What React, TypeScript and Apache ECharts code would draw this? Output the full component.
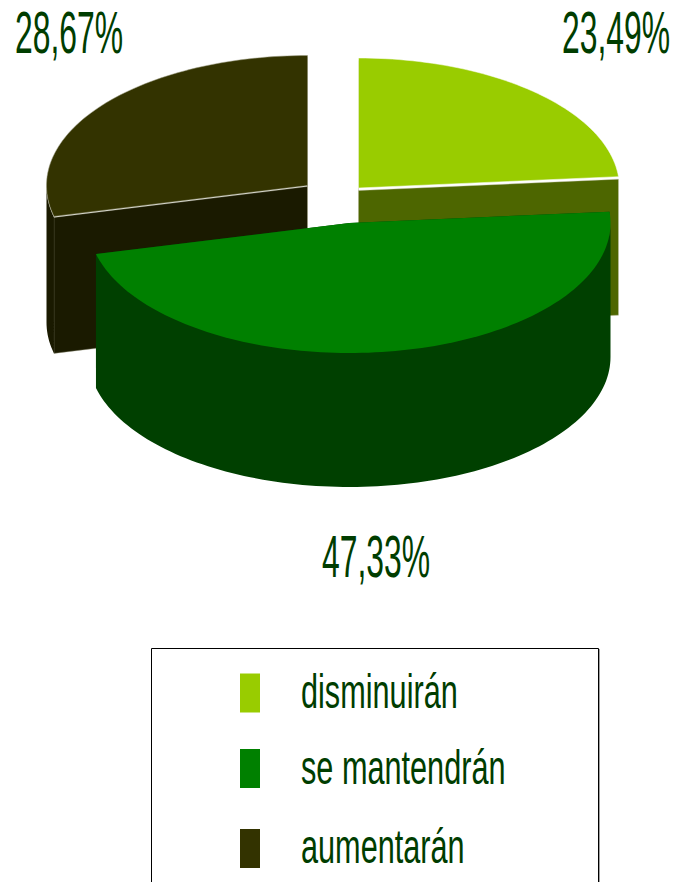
import React, { useEffect, useRef } from "react";
import * as echarts from "echarts";

const categories = ["disminuirán", "se mantendrán", "aumentarán"];
const values = [23.49, 47.33, 28.67];
const labels = ["23,49%", "47,33%", "28,67%"];
const topColors = ["#99cc00", "#008000", "#333300"];
const wallColors = ["#4d6600", "#004000", "#1a1a00"];
const edgeColors = ["#ffffff", "transparent", "#9a9a80"];
const centers = [
  [358.5, 188],
  [349.5, 223],
  [307.5, 185.5],
];
const wallOffsets = [2.5, 0, 1];
const depths = [136, 134, 136];
const labelPos = [
  [562, 32],
  [322, 556],
  [15, 32],
];

const RX = 261;
const RY = 130;
const TEXT = "#003d00";
const FONT = '"Liberation Sans", Arial, sans-serif';
const total = values.reduce((a, b) => a + b, 0);

function pt(c: number[], deg: number, dz: number) {
  const r = (deg * Math.PI) / 180;
  return [c[0] + RX * Math.cos(r), c[1] - RY * Math.sin(r) + dz];
}

function arc(c: number[], from: number, to: number, dz: number) {
  const out: number[][] = [];
  const n = Math.max(2, Math.ceil(Math.abs(from - to) / 1.5));
  for (let i = 0; i <= n; i++) out.push(pt(c, from + ((to - from) * i) / n, dz));
  return out;
}

function renderItem(params: any, api: any) {
  const i = params.dataIndex;
  const v = api.value(0);
  let before = 0;
  for (let k = 0; k < i; k++) before += values[k];
  const a0 = 90 - (before / total) * 360;
  const a1 = a0 - (v / total) * 360;
  const c = centers[i];
  const off = wallOffsets[i];
  const low = off + depths[i];
  const z2 = i === 1 ? 10 : 1;
  const children: any[] = [];
  [a0, a1].forEach((a) => {
    children.push({
      type: "polygon",
      z2,
      shape: {
        points: [
          [c[0], c[1] + off],
          pt(c, a, off),
          pt(c, a, low),
          [c[0], c[1] + low],
        ],
      },
      style: { fill: wallColors[i], stroke: edgeColors[i] === "#ffffff" ? "#c8c8b0" : edgeColors[i], lineWidth: 0.4 },
    });
  });
  const hi = Math.min(a0, 0);
  const lo = Math.max(a1, -180);
  if (hi > lo) {
    children.push({
      type: "polygon",
      z2,
      shape: { points: [...arc(c, hi, lo, off), ...arc(c, lo, hi, low)] },
      style: { fill: wallColors[i] },
    });
  }
  children.push({
    type: "polygon",
    z2,
    shape: { points: [c, ...arc(c, a0, a1, 0)] },
    style: { fill: topColors[i], stroke: edgeColors[i], lineWidth: 0.5 },
  });
  return { type: "group", children };
}

function text(str: string, x: number, y: number, size: number, scaleX: number) {
  return {
    type: "text",
    x,
    y,
    scaleX,
    style: {
      text: str,
      font: `${size}px ${FONT}`,
      fill: TEXT,
      align: "left",
      verticalAlign: "middle",
    },
  };
}

export default function App() {
  const ref = useRef<HTMLDivElement>(null);
  useEffect(() => {
    const chart = echarts.init(ref.current!, undefined, { renderer: "svg" });
    const legendY = [693, 768.5, 848.5];
    const legendTextY = [691, 767, 846];
    chart.setOption({
      animation: false,
      backgroundColor: "#ffffff",
      series: [
        {
          type: "custom",
          coordinateSystem: "none",
          renderItem,
          data: values.map((v) => [v]),
          silent: true,
        },
      ],
      graphic: [
        ...labels.map((l, i) => text(l, labelPos[i][0], labelPos[i][1], 59, 0.54)),
        {
          type: "polyline",
          shape: { points: [[151.5, 882], [151.5, 648.5], [598.5, 648.5], [598.5, 882]] },
          style: { fill: "none", stroke: "#000000", lineWidth: 1 },
        },
        {
          type: "line",
          shape: { x1: 599.5, y1: 649, x2: 599.5, y2: 882 },
          style: { stroke: "#a0a0a0", lineWidth: 1 },
        },
        ...categories.flatMap((cat, i) => [
          {
            type: "rect",
            shape: { x: 240, y: legendY[i] - 19.5, width: 20, height: 39 },
            style: { fill: topColors[i] },
          },
          text(cat, 301, legendTextY[i], 49, 0.626),
        ]),
      ],
    });
    return () => chart.dispose();
  }, []);
  return (
    <div
      ref={ref}
      style={{ position: "absolute", left: 0, top: 0, width: 673, height: 882 }}
    />
  );
}
